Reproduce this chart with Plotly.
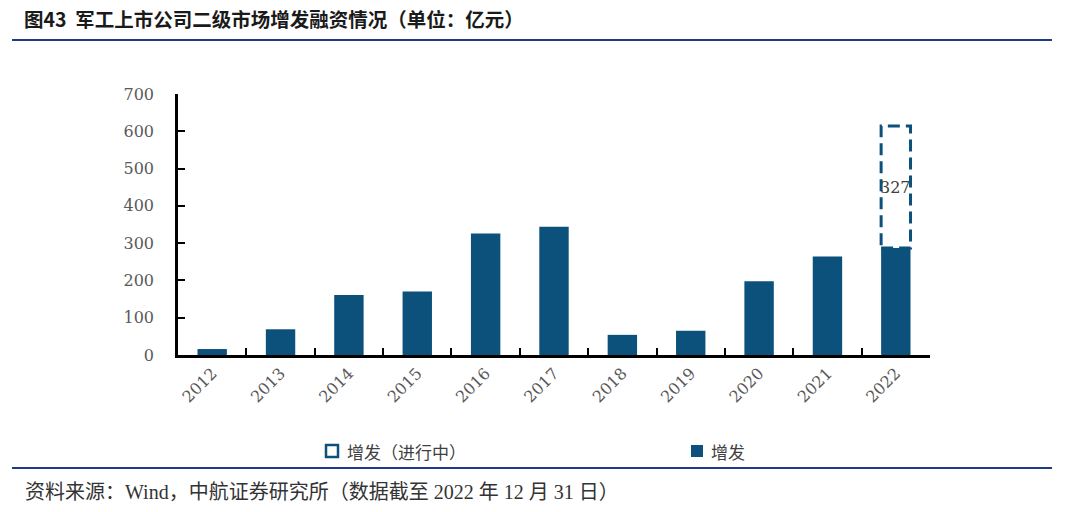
import plotly.graph_objects as go

years = ["2012", "2013", "2014", "2015", "2016", "2017", "2018", "2019", "2020", "2021", "2022"]
issued = [16, 69, 161, 170, 326, 344, 54, 65, 198, 264, 287]
in_progress_year = "2022"
in_progress_value = 327
y_ticks = [0, 100, 200, 300, 400, 500, 600, 700]

title_text = "图43  军工上市公司二级市场增发融资情况（单位：亿元）"
source_text = "资料来源：Wind，中航证券研究所（数据截至 2022 年 12 月 31 日）"
legend_names = ["增发（进行中）", "增发"]

BAR = "#0c517b"
NAVY = "#1f3c82"
GRAY = "#595959"
SERIF = "DejaVu Serif, Liberation Serif, serif"
CJK = "Noto Sans CJK SC"
bar_width = 0.43

W, H = 1080, 512
l, r, t, b = 178, 150, 94, 157
pw, ph = W - l - r, H - t - b


def px(xp, yp):
    """pixel position on the page -> paper coordinates"""
    return (xp - l) / pw, (H - b - yp) / ph


fig = go.Figure()
fig.add_trace(go.Bar(
    x=years, y=issued, name=legend_names[1], marker_color=BAR,
    marker_line_width=0, width=bar_width, showlegend=False,
))

# dashed "in progress" outline, computed from data
idx = years.index(in_progress_year)
base = issued[idx]
top = base + in_progress_value
x0, x1 = idx - bar_width / 2, idx + bar_width / 2
fig.add_shape(type="rect", xref="x", yref="y", x0=x0, x1=x1, y0=base, y1=top,
              line=dict(color=BAR, width=3, dash="12px,6px"), fillcolor="rgba(0,0,0,0)", layer="above")
fig.add_annotation(x=idx, y=base + in_progress_value / 2, xref="x", yref="y",
                   text=str(in_progress_value), showarrow=False,
                   font=dict(family=SERIF, size=16, color="#404040"))


def text_at(xp, yp, text, size, family, color, bold=False):
    ax, ay = px(xp, yp)
    fig.add_annotation(x=ax, y=ay, xref="paper", yref="paper",
                       text=("<b>" + text + "</b>") if bold else text,
                       showarrow=False, xanchor="left", yanchor="middle",
                       font=dict(family=family, size=size, color=color))


text_at(22, 18, title_text, 19.5, CJK, "#1a1a1a", bold=True)
text_at(23, 492, source_text, 20, "Liberation Serif, " + CJK, "#333333")
text_at(345, 451, legend_names[0], 17, CJK, "#404040")
text_at(709, 451, legend_names[1], 17, CJK, "#404040")

for (xa, xb, yy) in [(12, 1052, 40), (12, 1052, 468)]:
    ax, ay = px(xa, yy)
    bx, _ = px(xb, yy)
    fig.add_shape(type="line", xref="paper", yref="paper", x0=ax, x1=bx, y0=ay, y1=ay,
                  line=dict(color=NAVY, width=2))
# legend swatches
for (xa, filled) in [(326, False), (691, True)]:
    ax, ay = px(xa, 457)
    bx, by = px(xa + 12, 445)
    fig.add_shape(type="rect", xref="paper", yref="paper", x0=ax, x1=bx, y0=ay, y1=by,
                  line=dict(color=BAR, width=0 if filled else 2.5),
                  fillcolor=BAR if filled else "white")

fig.update_layout(
    width=W, height=H,
    margin=dict(l=l, r=r, t=t, b=b),
    paper_bgcolor="white", plot_bgcolor="white",
    bargap=0.57,
    showlegend=False,
    xaxis=dict(
        type="category", showline=True, linecolor="black", linewidth=2.5,
        ticks="inside", tickson="boundaries", ticklen=7, tickwidth=2, tickcolor="black",
        tickangle=-45, tickfont=dict(family=SERIF, size=16, color=GRAY),
        showgrid=False, zeroline=False, range=[-0.5, len(years) - 0.5],
    ),
    yaxis=dict(
        range=[0, 700], tickvals=y_ticks, showline=True, linecolor="black", linewidth=2.5,
        ticks="inside", ticklen=7, tickwidth=2, tickcolor="black",
        tickfont=dict(family=SERIF, size=16, color=GRAY),
        showgrid=False, zeroline=False, ticklabelstandoff=18,
    ),
)

fig.write_html("out.html", config={"displayModeBar": False},
               post_script="document.body.style.margin='0';")
